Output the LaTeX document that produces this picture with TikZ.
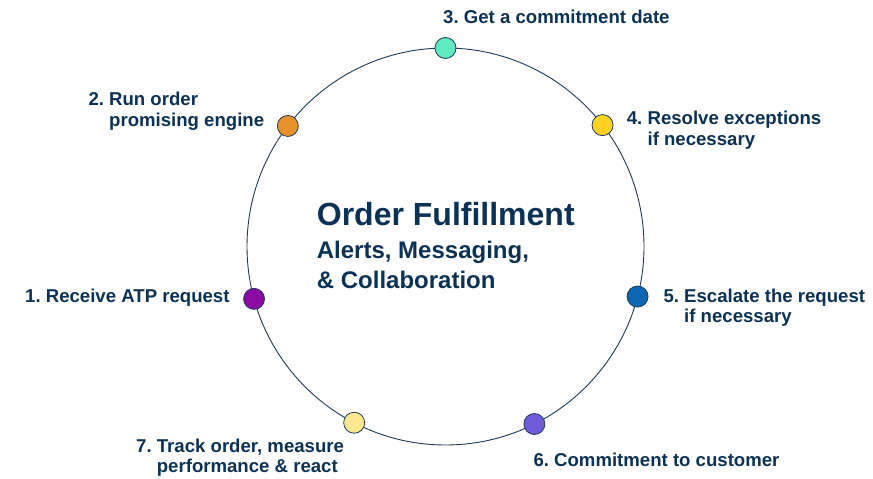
\documentclass[tikz,border=0pt]{standalone}
\usepackage{fontspec}
\usetikzlibrary{calc}
\setmainfont{Liberation Sans}
\frenchspacing
\definecolor{navy}{HTML}{0B3254}
\definecolor{ringc}{HTML}{1E3A5A}
\definecolor{c1}{HTML}{8B0AA5}
\definecolor{c2}{HTML}{E8912A}
\definecolor{c3}{HTML}{5EEBC0}
\definecolor{c4}{HTML}{FFD21F}
\definecolor{c5}{HTML}{0F66B0}
\definecolor{c6}{HTML}{6E5BD8}
\definecolor{c7}{HTML}{FFE88F}
\newcommand{\lblfont}{\fontsize{18.6bp}{20.6bp}\selectfont\bfseries\frenchspacing}
\newcommand{\twoline}[2]{\begin{tabular}[t]{@{}l@{}}#1\\#2\end{tabular}}
\begin{document}
\begin{tikzpicture}[x=1bp,y=-1bp,
  dot/.style={circle,draw=ringc,line width=0.8bp,minimum size=21bp,inner sep=0pt},
  lbl/.style={anchor=base west,inner sep=0pt,text=navy,font=\lblfont}]
\useasboundingbox[fill=white] (0,0) rectangle (873,479);
\coordinate (c) at (445.5,246.5);
\draw[ringc,line width=0.9bp] (c) circle[radius=198.5];
\node[dot,fill=c3] (d3) at ($(c)+(-90:198.5)$) {};
\node[dot,fill=c2] (d2) at ($(c)+(-142.6:198.5)$) {};
\node[dot,fill=c4] (d4) at ($(c)+(-37.7:198.5)$) {};
\node[dot,fill=c1] (d1) at ($(c)+(164.7:198.5)$) {};
\node[dot,fill=c5] (d5) at ($(c)+(14.6:198.5)$) {};
\node[dot,fill=c7] (d7) at ($(c)+(117.4:198.5)$) {};
\node[dot,fill=c6] (d6) at ($(c)+(63.4:198.5)$) {};
\node[lbl] (l3) at (443,24) {3. Get a commitment date};
\node[lbl] (l2) at (88.3,105.5) {\twoline{2. Run order}{\hphantom{2. }promising engine}};
\node[lbl] (l4) at (626.7,125) {\twoline{4. Resolve exceptions}{\hphantom{4. }if necessary}};
\node[lbl] (l1) at (25,302.5) {1. Receive ATP request};
\node[lbl] (l5) at (663.3,302.3) {\twoline{5. Escalate the request}{\hphantom{5. }if necessary}};
\node[lbl] (l7) at (136,452.3) {\twoline{7. Track order, measure}{\hphantom{7. }performance \& react}};
\node[lbl] (l6) at (533.3,466) {6. Commitment to customer};
\node[anchor=base west,inner sep=0pt,text=navy,font=\fontsize{32bp}{34bp}\selectfont\bfseries] (title) at (316.7,226) {Order Fulfillment};
\node[anchor=base west,inner sep=0pt,text=navy,font=\fontsize{24bp}{30bp}\selectfont\bfseries\frenchspacing] (sub) at (316.7,258.5) {\twoline{Alerts, Messaging,}{\& Collaboration}};
\end{tikzpicture}
\end{document}
